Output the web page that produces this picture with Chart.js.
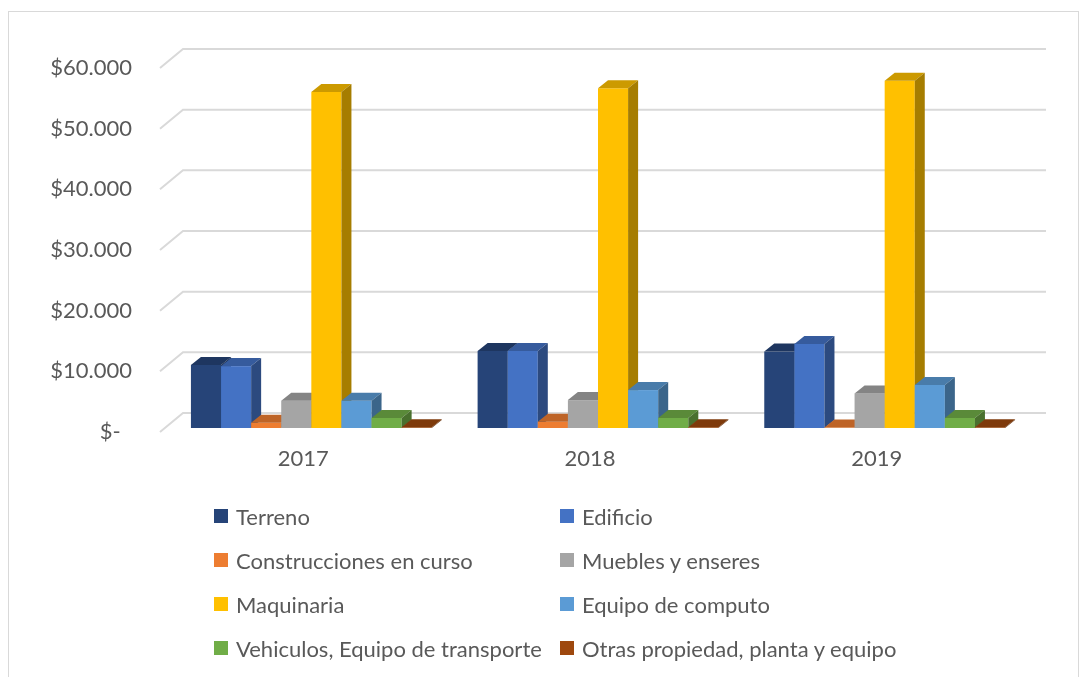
<!DOCTYPE html>
<html>
<head>
<meta charset="utf-8">
<script src="https://cdn.jsdelivr.net/npm/chart.js@4.4.1/dist/chart.umd.min.js"></script>
<style>
    body { margin: 0; background: #fff; font-family: Lato, "Open Sans", sans-serif; }
    #frame { position: absolute; left: 8px; top: 11px; width: 1069px; height: 700px; border: 1px solid #d9d9d9; }
    #wrap { position: absolute; left: 0; top: 0; width: 1088px; height: 677px; }
    #legend { position: absolute; left: 214px; top: 494px; display: grid; grid-template-columns: 346px 400px; }
    .item { display: flex; align-items: center; height: 44px; font-size: 22px; color: #595959; white-space: nowrap; }
    .sw { width: 14px; height: 14px; margin-right: 8px; flex: none; }
</style>
</head>
<body>
<div id="frame"></div>
<div id="wrap"><canvas id="chart" width="1088" height="677"></canvas></div>
<div id="legend"></div>
<script>
// Categories and series
const years = ['2017', '2018', '2019'];
const terreno = [10400, 12700, 12600];
const edificio = [10200, 12700, 13850];
const construcciones = [870, 1040, 80];
const muebles = [4500, 4600, 5700];
const maquinaria = [55400, 56000, 57250];
const equipoComputo = [4500, 6250, 7100];
const vehiculos = [1650, 1650, 1650];
const otras = [120, 120, 120];

const seriesNames = ['Terreno', 'Edificio', 'Construcciones en curso', 'Muebles y enseres',
    'Maquinaria', 'Equipo de computo', 'Vehiculos, Equipo de transporte', 'Otras propiedad, planta y equipo'];
const seriesValues = [terreno, edificio, construcciones, muebles, maquinaria, equipoComputo, vehiculos, otras];
const seriesColors = ['#264478', '#4472C4', '#ED7D31', '#A5A5A5', '#FFC000', '#5B9BD5', '#70AD47', '#9E480E'];

const yTicks = [0, 10000, 20000, 30000, 40000, 50000, 60000];

// darken a hex colour by factor
function shade(hex, f) {
    const n = parseInt(hex.slice(1), 16);
    const r = Math.round(((n >> 16) & 255) * f);
    const g = Math.round(((n >> 8) & 255) * f);
    const b = Math.round((n & 255) * f);
    return `rgb(${r},${g},${b})`;
}

// 3D look: back wall grid + extruded bars
const DEPTH_X = 10, DEPTH_Y = 8;   // bar depth
const SHIFT_X = 8, SHIFT_Y = -4;   // bars sit a little behind the front edge
const WALL_X = 23, WALL_Y = 19;    // back wall offset

const fake3d = {
    id: 'fake3d',
    beforeDatasetsDraw(chart) {
        const { ctx, chartArea, scales } = chart;
        ctx.save();
        ctx.strokeStyle = '#d9d9d9';
        ctx.lineWidth = 2;
        yTicks.forEach(v => {
            const y = scales.y.getPixelForValue(v);
            ctx.beginPath();
            ctx.moveTo(chartArea.left, y);
            ctx.lineTo(chartArea.left + WALL_X, y - WALL_Y);
            ctx.lineTo(chartArea.right + WALL_X + 3, y - WALL_Y);
            ctx.stroke();
        });
        ctx.restore();
    },
    afterDatasetsDraw(chart) {
        const { ctx } = chart;
        ctx.save();
        // draw each bar left to right so later fronts cover earlier sides
        for (let c = 0; c < years.length; c++) {
            chart.data.datasets.forEach((ds, i) => {
                const bar = chart.getDatasetMeta(i).data[c];
                const base = seriesColors[i];
                const x0 = bar.x - bar.width / 2 + SHIFT_X;
                const x1 = bar.x + bar.width / 2 + SHIFT_X;
                const yt = bar.y + SHIFT_Y;
                const yb = bar.base + SHIFT_Y;
                // front
                ctx.fillStyle = base;
                ctx.fillRect(x0, yt, x1 - x0, yb - yt);
                // top
                ctx.fillStyle = shade(base, 0.8);
                ctx.beginPath();
                ctx.moveTo(x0, yt);
                ctx.lineTo(x0 + DEPTH_X, yt - DEPTH_Y);
                ctx.lineTo(x1 + DEPTH_X, yt - DEPTH_Y);
                ctx.lineTo(x1, yt);
                ctx.closePath();
                ctx.fill();
                // side
                ctx.fillStyle = shade(base, 0.65);
                ctx.beginPath();
                ctx.moveTo(x1, yt);
                ctx.lineTo(x1 + DEPTH_X, yt - DEPTH_Y);
                ctx.lineTo(x1 + DEPTH_X, yb - DEPTH_Y);
                ctx.lineTo(x1, yb);
                ctx.closePath();
                ctx.fill();
            });
        }
        ctx.restore();
    }
};

const chart = new Chart(document.getElementById('chart'), {
    type: 'bar',
    data: {
        labels: years,
        datasets: seriesNames.map((name, i) => ({
            label: name,
            data: seriesValues[i],
            backgroundColor: 'rgba(0,0,0,0)',
            borderWidth: 0
        }))
    },
    options: {
        responsive: false,
        animation: false,
        events: [],
        layout: { padding: { top: 68, right: 68, bottom: 205, left: 0 } },
        datasets: { bar: { categoryPercentage: 0.84, barPercentage: 1 } },
        plugins: { legend: { display: false }, tooltip: { enabled: false } },
        scales: {
            x: {
                grid: { display: false },
                border: { display: false },
                ticks: { color: '#595959', font: { family: 'Lato', size: 22 }, padding: 6 },
                afterFit: s => { s.height = 40; }
            },
            y: {
                min: 0, max: 60000,
                afterBuildTicks: s => { s.ticks = yTicks.map(v => ({ value: v })); },
                grid: { display: false },
                border: { display: false },
                ticks: {
                    color: '#595959',
                    font: { family: 'Lato', size: 22 },
                    padding: 20,
                    callback: v => v === 0 ? '$-  ' : '$' + v.toLocaleString('de-DE')
                },
                afterFit: s => { s.width = 160; }
            }
        }
    },
    plugins: [fake3d]
});

// legend in two columns, built from the same series arrays
const legend = document.getElementById('legend');
seriesNames.forEach((name, i) => {
    const item = document.createElement('div');
    item.className = 'item';
    const sw = document.createElement('span');
    sw.className = 'sw';
    sw.style.background = seriesColors[i];
    item.appendChild(sw);
    item.appendChild(document.createTextNode(name));
    legend.appendChild(item);
});
</script>
</body>
</html>
